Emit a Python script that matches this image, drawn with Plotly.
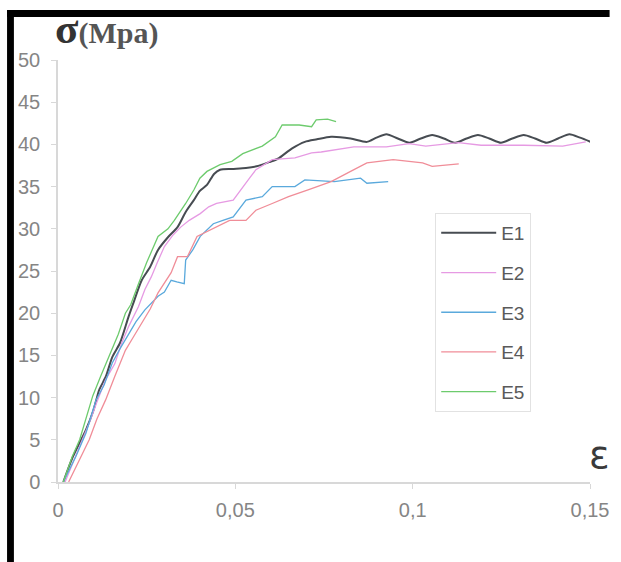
import plotly.graph_objects as go

# ---- data ----
e1_strain = [0.0015, 0.004, 0.0079, 0.0100, 0.0116, 0.0135, 0.0153, 0.0175, 0.0199, 0.0215, 0.0236, 0.026,
             0.0282, 0.031, 0.0337, 0.036, 0.0383, 0.040, 0.042, 0.044, 0.0457, 0.049, 0.053, 0.056, 0.0595,
             0.062, 0.0659, 0.0696, 0.073, 0.077, 0.0825, 0.0871, 0.0898, 0.0926, 0.0958, 0.0991, 0.1023,
             0.1055, 0.1088, 0.112, 0.1152, 0.1184, 0.1216, 0.1249, 0.1281, 0.1313, 0.1345, 0.1378, 0.141,
             0.1442, 0.1472, 0.1502]
e1_stress = [0.0, 2.8, 6.2, 8.5, 10.9, 12.5, 14.8, 16.5, 19.6, 21.5, 23.9, 25.5,
             27.5, 29.0, 30.2, 32.0, 33.4, 34.5, 35.2, 36.5, 37.0, 37.1, 37.2, 37.4, 37.9,
             38.3, 39.5, 40.3, 40.6, 40.9, 40.7, 40.3, 40.8, 41.2, 40.7, 40.2, 40.7,
             41.1, 40.7, 40.2, 40.7, 41.1, 40.7, 40.2, 40.7, 41.1, 40.7, 40.2, 40.7,
             41.2, 40.8, 40.3]

e2_strain = [0.002, 0.005, 0.0088, 0.011, 0.0134, 0.016, 0.018, 0.020, 0.0227, 0.0245, 0.0263, 0.028,
             0.030, 0.0325, 0.0346, 0.037, 0.0401, 0.0425, 0.0447, 0.0494, 0.0521, 0.054, 0.0558, 0.0604,
             0.0668, 0.0715, 0.0742, 0.0807, 0.0834, 0.0926, 0.099, 0.1037, 0.1129, 0.1193, 0.1313,
             0.1423, 0.1488]
e2_stress = [0.0, 3.0, 7.0, 9.5, 12.1, 14.0, 16.5, 18.5, 20.8, 22.8, 24.3, 26.0,
             27.9, 29.3, 30.2, 31.0, 31.8, 32.6, 33.0, 33.4, 35.0, 36.0, 37.0, 38.2,
             38.4, 39.0, 39.1, 39.5, 39.7, 39.7, 40.1, 39.8, 40.2, 39.9, 39.9,
             39.8, 40.3]

e3_strain = [0.0015, 0.005, 0.0079, 0.0107, 0.013, 0.0153, 0.0175, 0.0199, 0.022, 0.0245, 0.0282, 0.030,
             0.0319, 0.0335, 0.0356, 0.036, 0.038, 0.0401, 0.0438, 0.0465, 0.0494, 0.053, 0.0576, 0.0604,
             0.0668, 0.0696, 0.0779, 0.0853, 0.0871, 0.0931]
e3_stress = [0.0, 3.0, 5.8, 9.7, 11.5, 14.1, 15.8, 17.6, 19.0, 20.4, 22.0, 22.5,
             23.9, 23.7, 23.5, 26.3, 27.5, 29.1, 30.6, 31.0, 31.4, 33.4, 33.8, 35.0,
             35.0, 35.8, 35.6, 36.0, 35.4, 35.6]

e4_strain = [0.003, 0.006, 0.0088, 0.011, 0.0134, 0.016, 0.019, 0.021, 0.0236, 0.026, 0.0282, 0.030,
             0.0319, 0.0337, 0.0365, 0.0392, 0.0429, 0.046, 0.0484, 0.053, 0.0558, 0.0604, 0.065, 0.0705,
             0.077, 0.0825, 0.0871, 0.0945, 0.1028, 0.1055, 0.112, 0.113]
e4_stress = [0.0, 2.5, 5.0, 7.5, 9.7, 12.5, 15.6, 17.0, 18.8, 20.5, 22.4, 23.5,
             24.8, 26.7, 26.7, 29.1, 29.9, 30.5, 31.0, 31.0, 32.2, 33.0, 33.8, 34.6,
             35.6, 36.8, 37.8, 38.2, 37.8, 37.4, 37.7, 37.7]

e5_strain = [0.0015, 0.004, 0.0061, 0.008, 0.0098, 0.012, 0.0144, 0.017, 0.019, 0.0205, 0.0227, 0.025,
             0.0282, 0.031, 0.0328, 0.036, 0.0383, 0.040, 0.042, 0.0457, 0.049, 0.0521, 0.0576, 0.0613,
             0.0632, 0.068, 0.0715, 0.0728, 0.076, 0.0784]
e5_stress = [0.0, 3.0, 5.0, 7.8, 10.2, 12.5, 14.8, 17.5, 20.0, 21.0, 23.5, 26.0,
             29.1, 30.0, 31.0, 33.0, 34.6, 36.0, 36.8, 37.6, 38.0, 38.9, 39.8, 40.9,
             42.3, 42.3, 42.1, 42.9, 43.0, 42.7]

series_names = ["E1", "E2", "E3", "E4", "E5"]
series_colors = ["#474c52", "#e69ae3", "#5aa9dc", "#f08d98", "#6dcb6d"]
series_widths = [2.0, 1.3, 1.3, 1.3, 1.3]
series_shapes = ["spline", "linear", "linear", "linear", "linear"]

x_ticks = [0, 0.05, 0.1, 0.15]
x_ticktext = ["0", "0,05", "0,1", "0,15"]
y_ticks = [0, 5, 10, 15, 20, 25, 30, 35, 40, 45, 50]

strains = [e1_strain, e2_strain, e3_strain, e4_strain, e5_strain]
stresses = [e1_stress, e2_stress, e3_stress, e4_stress, e5_stress]

W, H = 621, 562
L, R, T, B = 58, 20, 60, 80
pw, ph = W - L - R, H - T - B


def px(x):
    return (x - L) / pw


def py(y):
    return (H - B - y) / ph


fig = go.Figure()
for name, xs, ys, c, w, s in zip(series_names, strains, stresses, series_colors, series_widths, series_shapes):
    fig.add_trace(go.Scatter(x=xs, y=ys, mode="lines", name=name, legendgroup=name,
                             line=dict(color=c, width=w, shape=s, smoothing=0.7)))

axis_common = dict(showgrid=False, zeroline=False, showline=True, linecolor="#d8d8d8", linewidth=1.5,
                   ticks="outside", ticklen=5, tickcolor="#d8d8d8",
                   tickfont=dict(family="Liberation Sans, Arial", size=20, color="#858585"))

fig.update_xaxes(range=[0, 0.15], tickvals=x_ticks, ticktext=x_ticktext,
                 ticklabelstandoff=4, **axis_common)
fig.update_yaxes(range=[0, 50], tickvals=y_ticks, ticklabelstandoff=7, **axis_common)

fig.update_layout(
    width=W, height=H,
    margin=dict(l=L, r=R, t=T, b=B),
    paper_bgcolor="white", plot_bgcolor="white",
    showlegend=True,
    legend=dict(x=px(443), y=py(213), xanchor="left", yanchor="top",
                bordercolor="#e2e2e2", borderwidth=1, bgcolor="rgba(255,255,255,0)",
                font=dict(family="Liberation Sans, Arial", size=19, color="#5a5a5a"),
                traceorder="grouped", tracegroupgap=12, itemwidth=55),
    annotations=[
        dict(xref="paper", yref="paper", x=px(53), y=py(54), xanchor="left", yanchor="bottom",
             showarrow=False,
             text="<b><span style='font-size:43px;color:#333'>σ</span>"
                  "<span style='font-size:30px;color:#555'>(Mpa)</span></b>",
             font=dict(family="Liberation Serif, Times New Roman, serif", size=30, color="#444")),
        dict(xref="paper", yref="paper", x=px(611), y=py(455), xanchor="center", yanchor="middle",
             showarrow=False, text="ε",
             font=dict(family="DejaVu Sans, Arial", size=38, color="#3a3a3a")),
    ],
    shapes=[
        dict(type="rect", xref="paper", yref="paper", x0=px(6), x1=px(13), y0=py(562), y1=py(10),
             fillcolor="black", line=dict(width=0), layer="above"),
        dict(type="rect", xref="paper", yref="paper", x0=px(6), x1=px(621), y0=py(17), y1=py(10),
             fillcolor="black", line=dict(width=0), layer="above"),
    ],
)

fig.write_html("out.html", config={"displayModeBar": False},
               post_script="document.body.style.margin='0';document.body.style.padding='0';")
